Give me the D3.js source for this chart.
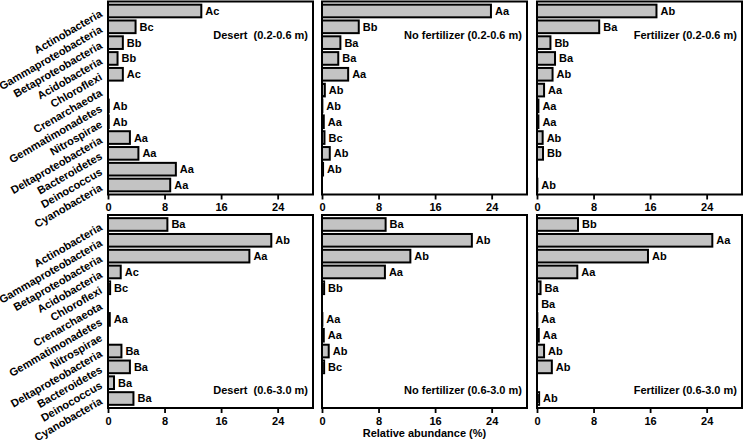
<!DOCTYPE html>
<html>
<head>
<meta charset="utf-8">
<script src="https://cdn.jsdelivr.net/npm/d3@7"></script>
<style>
  body { margin: 0; background: #fff; }
  svg { display: block; font-family: "Liberation Sans", Arial, sans-serif; font-weight: bold; }
</style>
</head>
<body>
<div id="chart"></div>
<script>
// phyla on the y axis, top to bottom
var categories = ["Actinobacteria", "Gammaproteobacteria", "Betaproteobacteria", "Acidobacteria",
    "Chloroflexi", "Crenarchaeota", "Gemmatimonadetes", "Nitrospirae",
    "Deltaproteobacteria", "Bacteroidetes", "Deinococcus", "Cyanobacteria"];

var titles = ["Desert  (0.2-0.6 m)", "No fertilizer (0.2-0.6 m)", "Fertilizer (0.2-0.6 m)",
    "Desert  (0.6-3.0 m)", "No fertilizer (0.6-3.0 m)", "Fertilizer (0.6-3.0 m)"];

var xTicks = [0, 8, 16, 24];

// relative abundance (%), null = no bar
var desertTop   = [13.2, 3.9, 2.1, 1.35, 2.1, null, 0.1, 0.1, 3.1, 4.3, 9.6, 8.8];
var noFertTop   = [23.9, 5.2, 2.6, 2.3, 3.7, 0.4, 0.05, 0.25, 0.35, 1.1, 0.15, null];
var fertTop     = [16.9, 8.8, 1.9, 2.55, 2.2, 1.0, 0.2, 0.2, 0.8, 0.85, null, 0.05];
var desertBot   = [8.4, 23.1, 20.0, 1.8, 0.3, null, 0.25, null, 1.9, 3.1, 0.85, 3.6];
var noFertBot   = [9.0, 21.2, 12.5, 8.9, 0.3, null, 0.05, 0.25, 0.95, 0.3, null, null];
var fertBot     = [5.8, 24.8, 15.7, 5.7, 0.5, 0.02, 0.05, 0.25, 1.0, 2.1, null, 0.3];

// significance letters
var desertTopL  = ["Ac", "Bc", "Bb", "Bb", "Ac", null, "Ab", "Ab", "Aa", "Aa", "Aa", "Aa"];
var noFertTopL  = ["Aa", "Bb", "Ba", "Ba", "Aa", "Ab", "Ab", "Aa", "Bc", "Ab", "Ab", null];
var fertTopL    = ["Ab", "Ba", "Bb", "Ba", "Ab", "Aa", "Aa", "Aa", "Ab", "Bb", null, "Ab"];
var desertBotL  = ["Ba", "Ab", "Aa", "Ac", "Bc", null, "Aa", null, "Ba", "Ba", "Ba", "Ba"];
var noFertBotL  = ["Ba", "Ab", "Ab", "Aa", "Bb", null, "Aa", "Aa", "Ab", "Bc", null, null];
var fertBotL    = ["Bb", "Aa", "Ab", "Aa", "Ba", "Ba", "Aa", "Aa", "Ab", "Ab", null, "Ab"];

var panelValues = [desertTop, noFertTop, fertTop, desertBot, noFertBot, fertBot];
var panelLetters = [desertTopL, noFertTopL, fertTopL, desertBotL, noFertBotL, fertBotL];

var width = 746, height = 441;
var colX = [108, 322, 537],
    rowY = [1.5, 215],
    pw = 205,
    ph = 193;

var svg = d3.select("#chart").append("svg")
    .attr("width", width)
    .attr("height", height);

var x = d3.scaleLinear().domain([0, 29]).range([0, pw]);
var y = d3.scaleBand().domain(categories).range([0, ph]).paddingInner(0.2).paddingOuter(0.2);

panelValues.forEach(function(vals, p) {
    var col = p % 3, row = Math.floor(p / 3);
    var g = svg.append("g").attr("transform", "translate(" + colX[col] + "," + rowY[row] + ")");
    var data = categories.map(function(c, i) { return { cat: c, v: vals[i], l: panelLetters[p][i] }; });

    g.selectAll("rect.bar")
        .data(data.filter(function(d) { return d.v != null; }))
        .enter().append("rect")
        .attr("class", "bar")
        .attr("x", x(0))
        .attr("y", function(d) { return y(d.cat); })
        .attr("width", function(d) { return x(d.v); })
        .attr("height", y.bandwidth())
        .attr("fill", "#c3c3c3")
        .attr("stroke", "#000")
        .attr("stroke-width", 2);

    g.selectAll("text.sig")
        .data(data.filter(function(d) { return d.l != null; }))
        .enter().append("text")
        .attr("class", "sig")
        .attr("x", function(d) { return x(d.v) + 4; })
        .attr("y", function(d) { return y(d.cat) + y.bandwidth() / 2; })
        .attr("dy", "0.36em")
        .attr("font-size", 11)
        .text(function(d) { return d.l; });

    // frame
    g.append("rect")
        .attr("width", pw).attr("height", ph)
        .attr("fill", "none")
        .attr("stroke", "#000")
        .attr("stroke-width", 2);

    var xAxis = g.append("g")
        .attr("transform", "translate(0," + ph + ")")
        .call(d3.axisBottom(x).tickValues(xTicks).tickSize(5).tickPadding(4));
    xAxis.select(".domain").remove();
    xAxis.selectAll("line").attr("stroke", "#000").attr("stroke-width", 1.8);
    xAxis.selectAll("text")
        .attr("font-size", 11)
        .attr("font-family", "'Liberation Sans', Arial, sans-serif")
        .attr("font-weight", "bold")
        .attr("fill", "#000");

    g.append("text")
        .attr("x", pw - 5)
        .attr("y", row === 0 ? 34 : ph - 18)
        .attr("dy", "0.36em")
        .attr("text-anchor", "end")
        .attr("font-size", 11)
        .style("white-space", "pre")
        .text(titles[p]);

    if (col === 0) {
        g.selectAll("text.cat")
            .data(categories)
            .enter().append("text")
            .attr("class", "cat")
            .attr("text-anchor", "end")
            .attr("font-size", 11)
            .attr("transform", function(d) {
                return "translate(-5," + (y(d) + y.bandwidth() / 2 + 5) + ") rotate(-30)";
            })
            .text(function(d) { return d; });
    }
});

svg.append("text")
    .attr("x", colX[1] + pw / 2)
    .attr("y", 433)
    .attr("dy", "0.36em")
    .attr("text-anchor", "middle")
    .attr("font-size", 11)
    .text("Relative abundance (%)");
</script>
</body>
</html>
